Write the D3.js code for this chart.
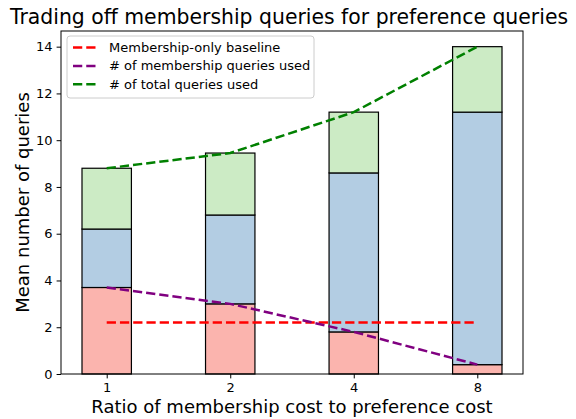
<!DOCTYPE html>
<html lang="en">
<head>
    <meta charset="utf-8">
    <title>Trading off membership queries</title>
    <style type="text/css">
        body { margin: 0; background: #fff; }
        svg text { font-family: "DejaVu Sans", sans-serif; fill: #000; }
    </style>
</head>
<body>
   <svg id="chart" width="576" height="419"></svg>

   <script src="https://cdn.jsdelivr.net/npm/d3@7"></script>
   <script>
        // data
        var ratios = ['1', '2', '4', '8'];
        var memberQueries = [3.7, 3.0, 1.8, 0.4];     // red segment
        var prefQueries = [2.5, 3.8, 6.8, 10.8];       // blue segment
        var totalQueries = [8.8, 9.45, 11.2, 14.0];    // top of green segment
        var baseline = [2.2, 2.2, 2.2, 2.2];
        var yTicks = [0, 2, 4, 6, 8, 10, 12, 14];

        var svg = d3.select('#chart'),
            padL = 61, padR = 523, padT = 31, padB = 374;

        // category index -> pixel, matplotlib-like margins
        var x = d3.scaleLinear().domain([-0.37, 3.37]).range([padL, padR]);
        var y = d3.scaleLinear().domain([0, 14.67]).range([padB, padT]);
        var barW = x(0.4) - x(0);

        // stacked bars
        var stacks = ratios.map(function(r, i) {
            var b1 = memberQueries[i], b2 = b1 + prefQueries[i];
            return [
                {i: i, y0: 0, y1: b1, c: '#fbb4ae'},
                {i: i, y0: b1, y1: b2, c: '#b3cde3'},
                {i: i, y0: b2, y1: totalQueries[i], c: '#ccebc5'}
            ];
        });
        svg.append('g').selectAll('rect')
            .data(d3.merge(stacks))
            .enter().append('rect')
            .attr('x', function(d) { return x(d.i) - barW / 2; })
            .attr('width', barW)
            .attr('y', function(d) { return y(d.y1); })
            .attr('height', function(d) { return y(d.y0) - y(d.y1); })
            .attr('fill', function(d) { return d.c; })
            .attr('stroke', '#000')
            .attr('stroke-width', 1.2);

        // dashed lines
        var line = d3.line()
            .x(function(d, i) { return x(i); })
            .y(function(d) { return y(d); });
        var series = [
            {name: 'Membership-only baseline', values: baseline, color: 'red'},
            {name: '# of membership queries used', values: memberQueries, color: 'purple'},
            {name: '# of total queries used', values: totalQueries, color: 'green'}
        ];
        svg.append('g').selectAll('path')
            .data(series)
            .enter().append('path')
            .attr('d', function(d) { return line(d.values); })
            .attr('fill', 'none')
            .attr('stroke', function(d) { return d.color; })
            .attr('stroke-width', 2.5)
            .attr('stroke-dasharray', '9.25,4');

        // axes
        var xAxis = svg.append('g')
            .attr('transform', 'translate(0,' + padB + ')')
            .call(d3.axisBottom(x).tickValues([0, 1, 2, 3])
                .tickFormat(function(d) { return ratios[d]; })
                .tickSize(4.4).tickPadding(4));
        var yAxis = svg.append('g')
            .attr('transform', 'translate(' + padL + ',0)')
            .call(d3.axisLeft(y).tickValues(yTicks).tickSize(4.4).tickPadding(4));
        [xAxis, yAxis].forEach(function(a) {
            a.select('.domain').remove();
            a.selectAll('text').style('font-size', '13px')
                .style('font-family', '"DejaVu Sans", sans-serif').attr('fill', '#000');
            a.selectAll('line').attr('stroke', '#000').attr('stroke-width', 1);
        });

        // frame
        svg.append('rect')
            .attr('x', padL).attr('y', padT)
            .attr('width', padR - padL).attr('height', padB - padT)
            .attr('fill', 'none').attr('stroke', '#000').attr('stroke-width', 1);

        // titles
        svg.append('text')
            .attr('x', 289).attr('y', 24)
            .attr('text-anchor', 'middle')
            .style('font-size', '20.4px')
            .text('Trading off membership queries for preference queries');
        svg.append('text')
            .attr('x', (padL + padR) / 2).attr('y', 413)
            .attr('text-anchor', 'middle')
            .style('font-size', '18px')
            .text('Ratio of membership cost to preference cost');
        svg.append('text')
            .attr('transform', 'translate(29,' + (padT + padB) / 2 + ') rotate(-90)')
            .attr('text-anchor', 'middle')
            .style('font-size', '18px')
            .text('Mean number of queries');

        // legend
        var lg = svg.append('g').attr('transform', 'translate(67,36)');
        lg.append('rect')
            .attr('width', 247).attr('height', 62)
            .attr('rx', 3)
            .attr('fill', '#fff').attr('fill-opacity', 0.8)
            .attr('stroke', '#ccc').attr('stroke-width', 1);
        var items = lg.selectAll('g.item')
            .data(series)
            .enter().append('g')
            .attr('class', 'item')
            .attr('transform', function(d, i) { return 'translate(0,' + (11.5 + i * 18.4) + ')'; });
        items.append('line')
            .attr('x1', 6).attr('x2', 29)
            .attr('stroke', function(d) { return d.color; })
            .attr('stroke-width', 2.5)
            .attr('stroke-dasharray', '9.25,4');
        items.append('text')
            .attr('x', 42).attr('dy', '0.35em')
            .style('font-size', '13px')
            .text(function(d) { return d.name; });
   </script>
</body>
</html>
